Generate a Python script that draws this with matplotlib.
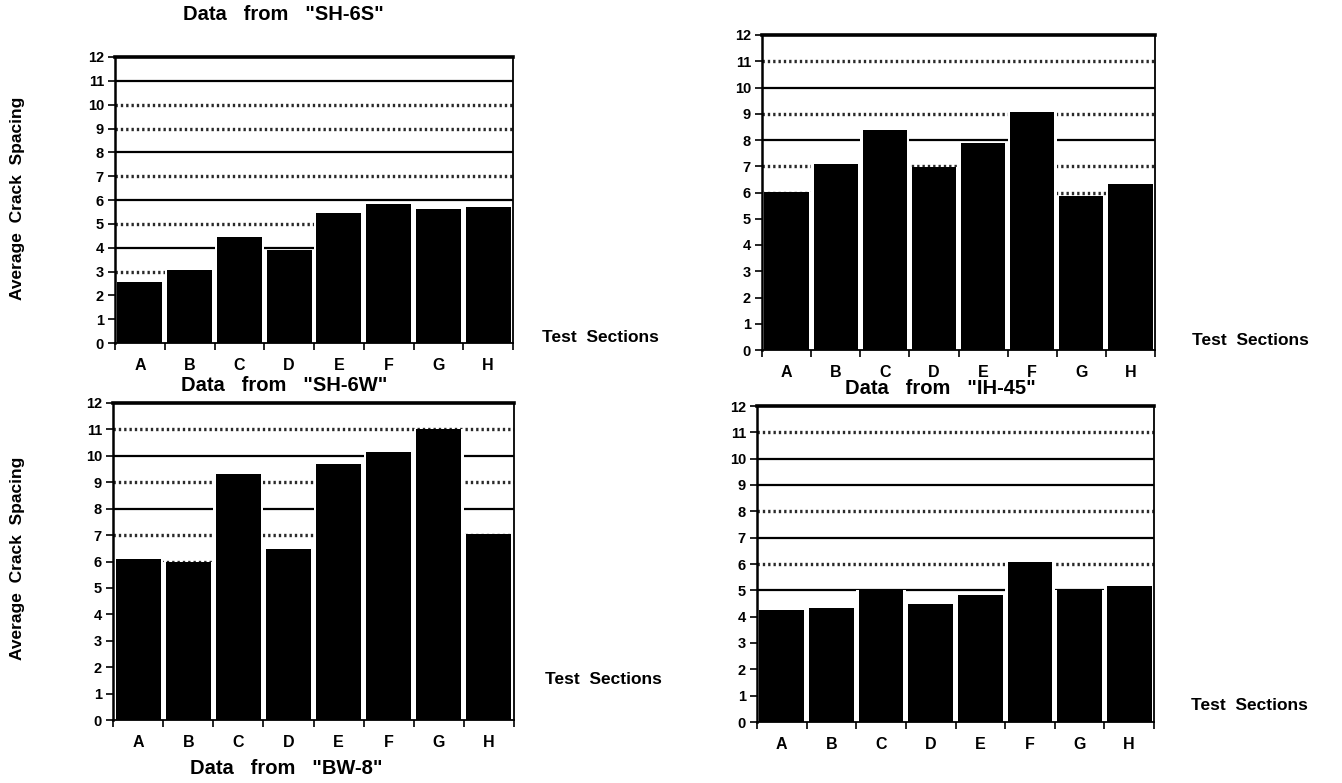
import matplotlib
matplotlib.use("Agg")
import matplotlib.pyplot as plt
import numpy as np

categories = ["A", "B", "C", "D", "E", "F", "G", "H"]
sh6s = [2.58, 3.07, 4.44, 3.90, 5.44, 5.83, 5.62, 5.69]
tr_vals = [6.03, 7.07, 8.40, 6.96, 7.87, 9.05, 5.85, 6.31]
sh6w = [6.11, 5.97, 9.33, 6.49, 9.70, 10.14, 11.0, 7.03]
br_vals = [4.27, 4.34, 5.00, 4.50, 4.83, 6.08, 5.02, 5.15]
yticks = list(range(0, 13))

plt.rcParams['font.family'] = ['Liberation Sans', 'DejaVu Sans']
plt.rcParams['font.weight'] = 'bold'

W, H = 1342, 783
fig = plt.figure(figsize=(W / 100, H / 100), dpi=100)
fig.patch.set_facecolor('white')


def px_axes(x0, x1, ytop, ybot):
    return fig.add_axes([x0 / W, 1 - ybot / H, (x1 - x0) / W, (ybot - ytop) / H])


def draw_panel(ax, vals, dotted, solid):
    x = np.arange(len(categories))
    for lv in solid:
        ax.axhline(lv, color='black', lw=1.6, zorder=1)
    for lv in dotted:
        ax.axhline(lv, color='#2a2a2a', lw=2.4, ls=(0, (0.7, 0.9)), zorder=1)
    ax.bar(x, vals, width=1.0, color='white', zorder=2)
    ax.bar(x, vals, width=0.9, color='black', zorder=3)
    ax.set_xlim(-0.5, len(categories) - 0.5)
    ax.set_ylim(0, 12)
    ax.set_yticks(yticks)
    ax.set_yticklabels([str(v) for v in yticks], fontsize=10.5, fontweight='bold')
    ax.set_xticks(x)
    ax.set_xticklabels(categories, fontsize=11.5, fontweight='bold')
    ax.set_xticks(np.arange(-0.5, len(categories)), minor=True)
    ax.tick_params(axis='x', which='major', length=0, pad=11)
    ax.tick_params(axis='x', which='minor', length=5, width=1.2, direction='out')
    ax.tick_params(axis='y', length=5, width=1.2, direction='out', pad=3)
    ax.spines['left'].set_linewidth(1.8)
    ax.spines['top'].set_linewidth(2.6)
    ax.spines['right'].set_linewidth(1.3)
    ax.spines['bottom'].set_linewidth(1.3)


ax1 = px_axes(115, 513, 57, 343)
draw_panel(ax1, sh6s, dotted=[3, 5, 7, 9, 10], solid=[1, 2, 4, 6, 8, 11])
ax2 = px_axes(762, 1155, 35, 350)
draw_panel(ax2, tr_vals, dotted=[6, 7, 9, 11], solid=[1, 2, 3, 4, 5, 8, 10])
ax3 = px_axes(113, 514, 403, 720)
draw_panel(ax3, sh6w, dotted=[6, 7, 9, 11], solid=[1, 2, 3, 4, 5, 8, 10])
ax4 = px_axes(757, 1154, 406, 722)
draw_panel(ax4, br_vals, dotted=[6, 8, 11], solid=[1, 2, 3, 4, 5, 7, 9, 10])

tkw = dict(fontsize=14.5, fontweight='bold', ha='center', va='center')
fig.text(283 / W, 1 - 14 / H, 'Data   from   "SH-6S"', **tkw)
fig.text(284 / W, 1 - 385 / H, 'Data   from   "SH-6W"', **tkw)
fig.text(940 / W, 1 - 388 / H, 'Data   from   "IH-45"', **tkw)
fig.text(286 / W, 1 - 768 / H, 'Data   from   "BW-8"', **tkw)

skw = dict(fontsize=12.5, fontweight='bold', ha='center', va='center')
fig.text(600 / W, 1 - 337 / H, 'Test  Sections', **skw)
fig.text(1250 / W, 1 - 340 / H, 'Test  Sections', **skw)
fig.text(603 / W, 1 - 680 / H, 'Test  Sections', **skw)
fig.text(1249 / W, 1 - 705 / H, 'Test  Sections', **skw)

ykw = dict(fontsize=12.5, fontweight='bold', ha='center', va='center', rotation=90)
fig.text(18 / W, 1 - 198 / H, 'Average  Crack  Spacing', **ykw)
fig.text(18 / W, 1 - 558 / H, 'Average  Crack  Spacing', **ykw)

fig.savefig('out.png', dpi=100, facecolor='white')
